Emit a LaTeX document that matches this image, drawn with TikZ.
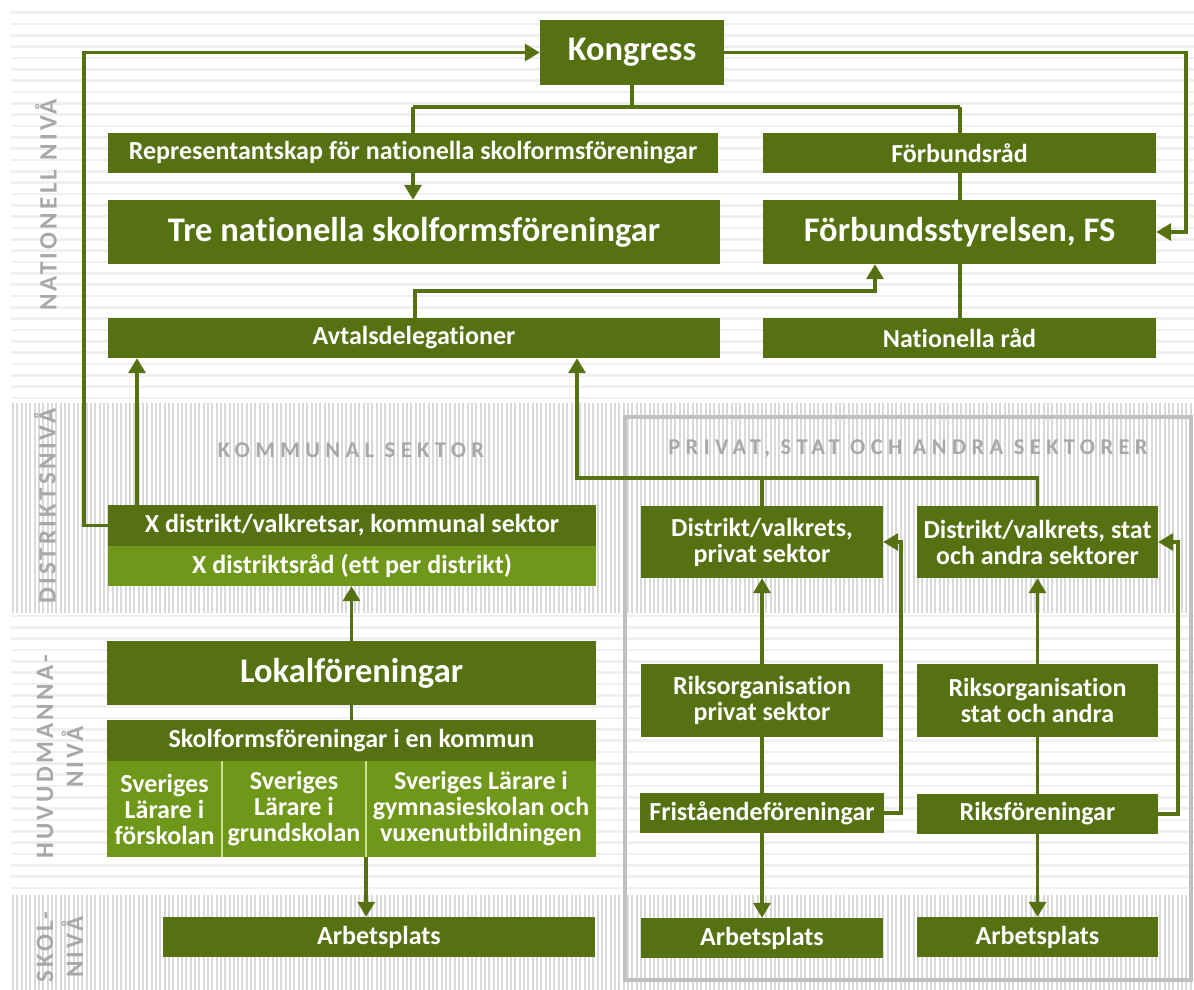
\documentclass[tikz,border=0pt]{standalone}
\usepackage{fontspec}
\setmainfont{Carlito}[Ligatures=NoCommon]
\newfontfamily\lvlfont{Carlito}[LetterSpace=13,Ligatures=NoCommon]
\newfontfamily\secfont{Carlito}[LetterSpace=24,Ligatures=NoCommon]
\usetikzlibrary{arrows.meta}
\definecolor{dg}{HTML}{557112}
\definecolor{lg}{HTML}{6F9719}
\definecolor{lvlgray}{HTML}{A8A8A8}
\definecolor{hs}{HTML}{F0F0F0}
\definecolor{vs}{HTML}{D9D9D9}
\definecolor{boxgray}{HTML}{C0C0C0}
\definecolor{sepc}{HTML}{C9E08E}
\tikzset{
  box/.style={fill=dg, text=white, inner sep=0pt, align=center, font=\bfseries\fontsize{26}{26}\selectfont},
  bigbox/.style={box, font=\bfseries\fontsize{34.5}{36}\selectfont},
  lbox/.style={box, fill=lg},
  svbox/.style={box, fill=lg},
  conn/.style={draw=dg, line width=3.5pt},
  arr/.style={conn, -{Triangle[length=15pt,width=17pt]}},
  lvl/.style={text=lvlgray, rotate=90, align=center, inner sep=0pt, font=\lvlfont\bfseries\fontsize{25}{30}\selectfont},
  sec/.style={text=lvlgray, inner sep=0pt, font=\secfont\bfseries\fontsize{22.5}{24}\selectfont},
}
\begin{document}
\begin{tikzpicture}[x=1pt,y=-1pt]
\useasboundingbox (0,0) rectangle (1194,990);
% background stripes
\foreach \i in {0,...,34} \fill[hs] (11,{12.7+11.33*\i-1.4}) rectangle (1194,{12.7+11.33*\i+1.4});
\foreach \i in {0,...,24} \fill[hs] (11,{616+11.33*\i-1.4}) rectangle (1194,{616+11.33*\i+1.4});
\foreach \i in {0,...,272} \fill[vs] ({12+4.33*\i},403) rectangle ({14+4.33*\i},613);
\foreach \i in {0,...,272} \fill[vs] ({12+4.33*\i},895) rectangle ({14+4.33*\i},990);
% sector frame
\draw[boxgray, line width=4pt] (625,417) rectangle (1191,980);
% level labels
\node[lvl] (lnat) at (46,205) {NATIONELL NIVÅ};
\node[lvl] (ldis) at (45,506) {DISTRIKTSNIVÅ};
\node[lvl] (lhuv) at (60,757) {HUVUDMANNA-\\NIVÅ};
\node[lvl] (lsko) at (60,947) {SKOL-\\NIVÅ};
\node[sec] (skom) at (351,450) {KOMMUNAL SEKTOR};
\node[sec] (sprv) at (908,449) {PRIVAT, STAT OCH ANDRA SEKTORER};
% nodes
\node[bigbox, minimum width=184pt, minimum height=65pt] (kong) at (632,52.5) {Kongress};
\node[box, minimum width=610pt, minimum height=40pt] (rep) at (413,153) {Representantskap för nationella skolformsföreningar};
\node[box, minimum width=393pt, minimum height=40pt] (frad) at (959.5,153) {Förbundsråd};
\node[bigbox, minimum width=612pt, minimum height=64pt] (tre) at (414,232) {Tre nationella skolformsföreningar};
\node[bigbox, minimum width=393pt, minimum height=64pt] (fs) at (959.5,232) {Förbundsstyrelsen, FS};
\node[box, minimum width=612pt, minimum height=40pt] (avt) at (414,338) {Avtalsdelegationer};
\node[box, minimum width=393pt, minimum height=40pt] (nrad) at (959.5,338) {Nationella råd};
\node[box, minimum width=488pt, minimum height=41pt] (xd) at (352,525.5) {X distrikt/valkretsar, kommunal sektor};
\node[lbox, minimum width=488pt, minimum height=40pt] (xdr) at (352,566) {X distriktsråd (ett per distrikt)};
\node[box, minimum width=242pt, minimum height=72pt] (dpriv) at (762,542) {Distrikt/valkrets,\\privat sektor};
\node[box, minimum width=241pt, minimum height=72pt] (dstat) at (1037.5,542) {Distrikt/valkrets, stat\\och andra sektorer};
\node[bigbox, minimum width=489pt, minimum height=64pt] (lok) at (351.5,673) {Lokalföreningar};
\node[box, minimum width=489pt, minimum height=41pt] (skf) at (351.5,740.5) {Skolformsföreningar i en kommun};
\node[svbox, minimum width=115pt, minimum height=96pt] (sv1) at (164.5,809) {Sveriges\\Lärare i\\förskolan};
\node[svbox, minimum width=144pt, minimum height=96pt] (sv2) at (294,809) {Sveriges\\Lärare i\\grundskolan};
\node[svbox, minimum width=230pt, minimum height=96pt] (sv3) at (481,809) {Sveriges Lärare i\\gymnasieskolan och\\vuxenutbildningen};
\node[box, minimum width=432pt, minimum height=40pt] (arb1) at (379,937) {Arbetsplats};
\node[box, minimum width=242pt, minimum height=73pt] (rpriv) at (762,700.5) {Riksorganisation\\privat sektor};
\node[box, minimum width=241pt, minimum height=73pt] (rstat) at (1037.5,700.5) {Riksorganisation\\stat och andra};
\node[box, minimum width=244pt, minimum height=40pt] (fri) at (762,813) {Friståendeföreningar};
\node[box, minimum width=241pt, minimum height=40pt] (riks) at (1037.5,814) {Riksföreningar};
\node[box, minimum width=242pt, minimum height=40pt] (arb2) at (762,938) {Arbetsplats};
\node[box, minimum width=241pt, minimum height=40pt] (arb3) at (1037.5,937) {Arbetsplats};
% separators in light boxes
\draw[sepc, line width=2pt] (sv1.north east) -- (sv1.south east);
\draw[sepc, line width=2pt] (sv2.north east) -- (sv2.south east);
% coordinates
\coordinate (kr) at (1186,52.5);
\coordinate (kl) at (84,525.5);
\coordinate (jl) at (413,107);
\coordinate (jr) at (960,107);
\coordinate (a1) at (415,291);
\coordinate (a2) at (875,291);
\coordinate (b1) at (137,0);
\coordinate (c1) at (577,478);
\coordinate (c2) at (1037.5,478);
\coordinate (d1) at (901,0);
\coordinate (d2) at (1178,0);
% connectors
\draw[arr] (kong.east) -- (kr) |- (fs.east);
\draw[arr] (xd.west) -- (kl) |- (kong.west);
\draw[conn] (kong.south) -- (kong.south |- jl);
\draw[conn] (jl) -- (jr);
\draw[conn] (jl) -- (jl |- rep.north);
\draw[arr] (jl |- rep.south) -- (jl |- tre.north);
\draw[conn] (jr) -- (jr |- frad.north);
\draw[conn] (jr |- frad.south) -- (jr |- fs.north);
\draw[conn] (jr |- fs.south) -- (jr |- nrad.north);
\draw[arr] (a1 |- avt.north) -- (a1) -- (a2) -- (a2 |- fs.south);
\draw[arr] (b1 |- xd.north) -- (b1 |- avt.south);
\draw[arr] (dstat.north) -- (c2) -- (c1) -- (c1 |- avt.south);
\draw[conn] (dpriv.north) -- (dpriv.north |- c1);
\draw[arr] (lok.north) -- (lok.north |- xdr.south);
\draw[conn] (lok.south) -- (lok.south |- skf.north);
\draw[arr] (sv2.south east) -- (sv2.south east |- arb1.north);
\draw[arr] (rpriv.north) -- (rpriv.north |- dpriv.south);
\draw[conn] (rpriv.south) -- (rpriv.south |- fri.north);
\draw[arr] (fri.south) -- (fri.south |- arb2.north);
\draw[arr] (fri.east) -| (d1 |- dpriv.east) -- (dpriv.east);
\draw[arr] (rstat.north) -- (rstat.north |- dstat.south);
\draw[conn] (rstat.south) -- (rstat.south |- riks.north);
\draw[arr] (riks.south) -- (riks.south |- arb3.north);
\draw[arr] (riks.east) -| (d2 |- dstat.east) -- (dstat.east);
\end{tikzpicture}
\end{document}
